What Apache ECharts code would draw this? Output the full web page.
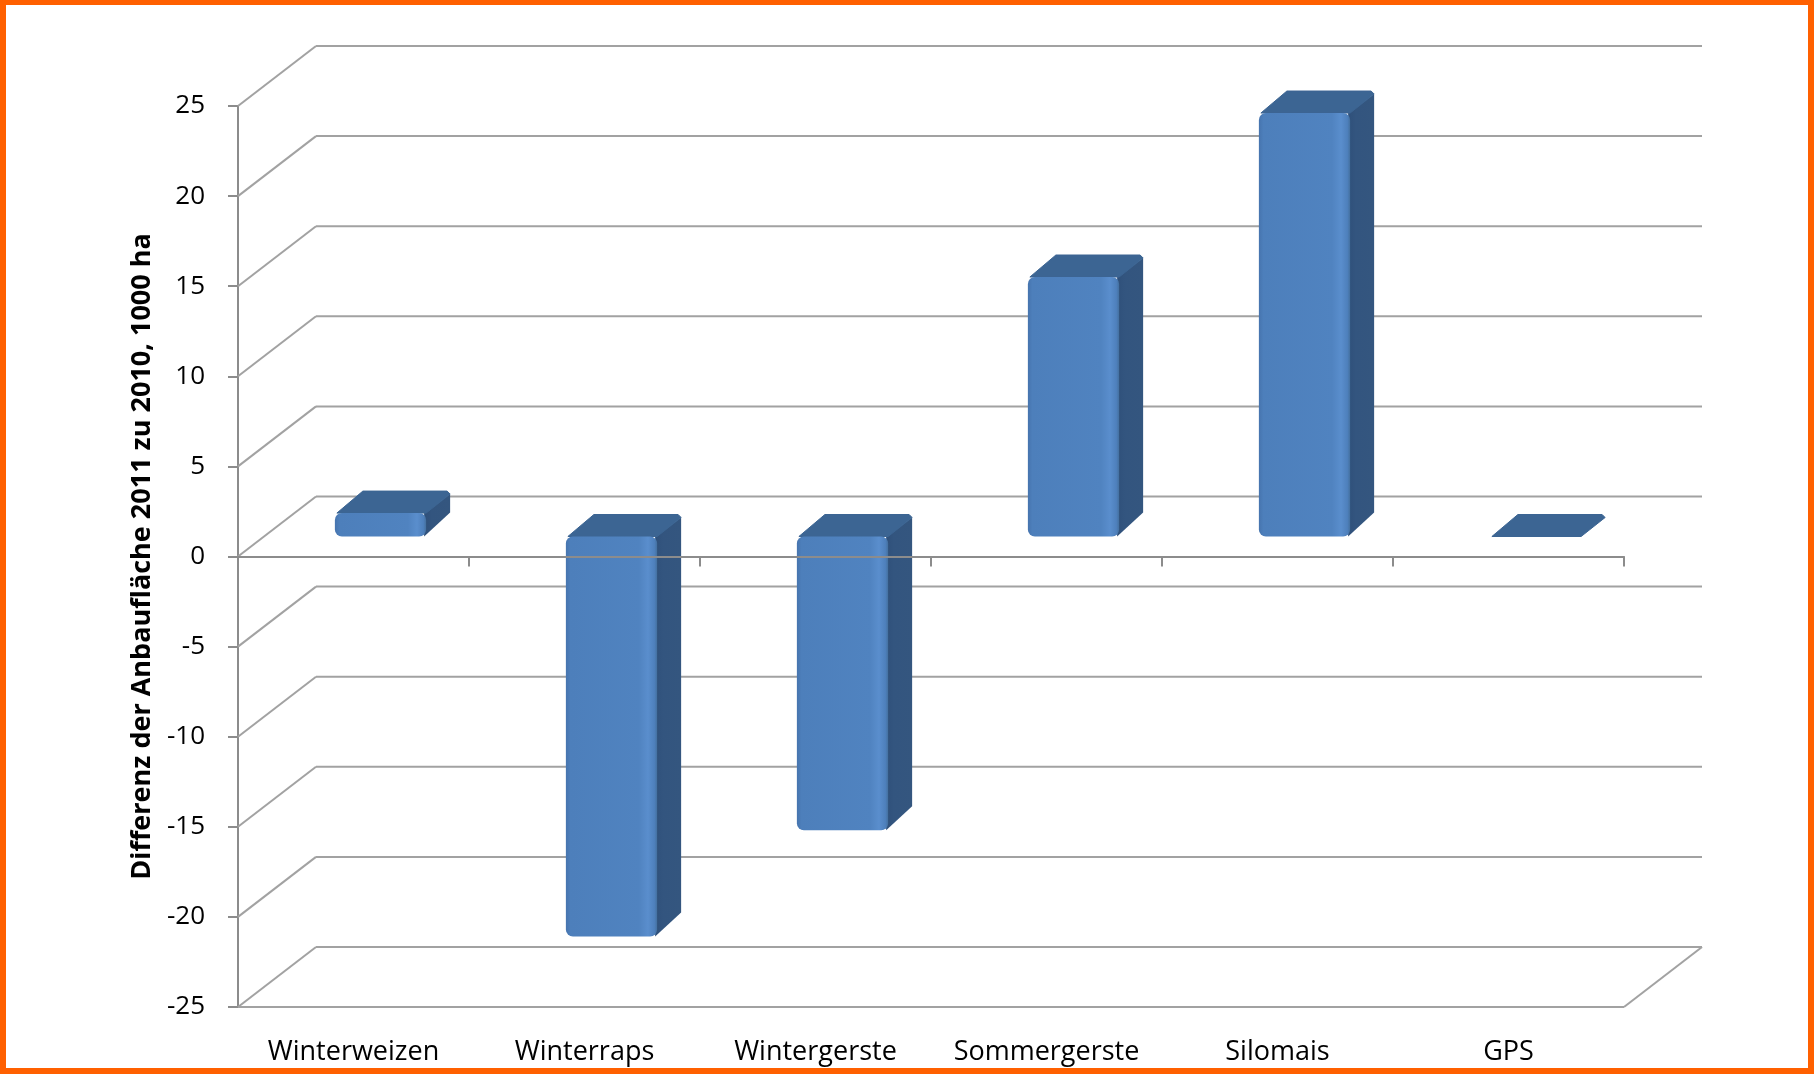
<!DOCTYPE html>
<html>
<head>
<meta charset="utf-8">
<script src="https://cdn.jsdelivr.net/npm/echarts@6/dist/echarts.min.js"></script>
<style>
  html, body { margin: 0; padding: 0; background: #ffffff; }
  #chart { width: 1816px; height: 1074px; }
</style>
</head>
<body>
<div id="chart"></div>
<script>
// ---------- data ----------
const categories = ['Winterweizen', 'Winterraps', 'Wintergerste', 'Sommergerste', 'Silomais', 'GPS'];
const values = [1.3, -22.2, -16.3, 14.4, 23.5, 0];
const yTicks = [-25, -20, -15, -10, -5, 0, 5, 10, 15, 20, 25];
const yTitle = 'Differenz der Anbaufläche 2011 zu 2010, 1000 ha';

// ---------- styling (pseudo-3D oblique projection) ----------
const WALL = { dx: 78, dy: -60 };        // offset from front plane to back wall
const BAR_SHIFT = { dx: 27, dy: -20 };   // front face of the bars sits at partial depth
const BAR_DEPTH = { dx: 24, dy: -22 };   // depth of a bar
const BAR_WIDTH = 0.395;                 // share of category width
const GRID_COLOR = '#A2A2A2';
const AXIS_COLOR = '#8C8C8C';
const FONT = 'Open Sans';

const yMin = yTicks[0], yMax = yTicks[yTicks.length - 1];
const yStep = yTicks[1] - yTicks[0];

const chart = echarts.init(document.getElementById('chart'), null, { renderer: 'canvas' });

function renderWall(params, api) {
  const cs = params.coordSys;
  const v = api.value(1);
  const y = api.coord([0, v])[1];
  const x0 = cs.x, x1 = cs.x + cs.width;
  const ls = { stroke: GRID_COLOR, lineWidth: 2 };
  const children = [
    { type: 'line', shape: { x1: x0, y1: y, x2: x0 + WALL.dx, y2: y + WALL.dy }, style: ls },
    { type: 'line', shape: { x1: x0 + WALL.dx, y1: y + WALL.dy, x2: x1 + WALL.dx, y2: y + WALL.dy }, style: ls }
  ];
  if (v === yMin) {
    children.push({ type: 'line', shape: { x1: x0, y1: y, x2: x1, y2: y }, style: ls });
    children.push({ type: 'line', shape: { x1: x1, y1: y, x2: x1 + WALL.dx, y2: y + WALL.dy }, style: ls });
  }
  return { type: 'group', children: children };
}

function renderBar(params, api) {
  const i = api.value(0), v = api.value(1);
  const p0 = api.coord([i, 0]);
  const p1 = api.coord([i, v]);
  const bw = api.size([1, 0])[0] * BAR_WIDTH;
  const xL = p0[0] - bw / 2 + BAR_SHIFT.dx, xR = xL + bw;
  const yA = p0[1] + BAR_SHIFT.dy, yB = p1[1] + BAR_SHIFT.dy;
  const yTop = Math.min(yA, yB), yBot = Math.max(yA, yB);
  const h = yBot - yTop;
  const dx = BAR_DEPTH.dx, dy = BAR_DEPTH.dy;
  const children = [];
  if (h > 1) {
    children.push({
      type: 'polygon',
      shape: { points: [[xR - 2, yTop], [xR + dx, yTop + dy + 3], [xR + dx, yBot + dy - 2], [xR - 2, yBot]] },
      style: {
        fill: new echarts.graphic.LinearGradient(0, 0, 1, 0, [
          { offset: 0, color: '#2F507A' },
          { offset: 0.3, color: '#33557F' },
          { offset: 1, color: '#34567F' }
        ])
      }
    });
  }
  children.push({
    type: 'polygon',
    shape: { points: [[xL + 2, yTop], [xL + dx + 4, yTop + dy], [xR + dx - 3, yTop + dy], [xR + dx, yTop + dy + 3], [xR, yTop]] },
    style: { fill: '#3C6593', stroke: '#3C6593', lineWidth: 1, lineJoin: 'round' }
  });
  if (h > 1) {
    children.push({
      type: 'rect',
      shape: { x: xL, y: yTop, width: bw, height: h, r: 7 },
      style: {
        fill: new echarts.graphic.LinearGradient(0, 0, 1, 0, [
          { offset: 0, color: '#4674AE' },
          { offset: 0.05, color: '#4D7FBB' },
          { offset: 0.8, color: '#5083C0' },
          { offset: 0.9, color: '#5A8ECD' },
          { offset: 0.97, color: '#4E80BC' },
          { offset: 1, color: '#44709F' }
        ])
      }
    });
  }
  return { type: 'group', children: children };
}

const option = {
  backgroundColor: '#ffffff',
  animation: false,
  textStyle: { fontFamily: FONT },
  grid: { left: 238, right: 192, top: 106, bottom: 67, containLabel: false, outerBoundsMode: 'none' },
  xAxis: [
    {
      type: 'category',
      data: categories,
      position: 'bottom',
      axisLine: { show: false, onZero: false },
      axisTick: { show: false },
      axisLabel: { color: '#000', fontSize: 27, fontFamily: FONT, margin: 32, interval: 0 },
      splitLine: { show: false }
    },
    {
      type: 'category',
      data: categories,
      position: 'top',
      z: 10,
      axisLine: { show: true, onZero: true, lineStyle: { color: AXIS_COLOR, width: 2 } },
      axisTick: { show: true, inside: true, length: 10, lineStyle: { color: AXIS_COLOR, width: 2 } },
      axisLabel: { show: false },
      splitLine: { show: false }
    }
  ],
  yAxis: {
    type: 'value',
    min: yMin,
    max: yMax,
    interval: yStep,
    name: yTitle,
    nameLocation: 'middle',
    nameRotate: 90,
    nameGap: 82,
    nameTextStyle: { fontFamily: FONT, fontWeight: 'bold', fontSize: 27, color: '#000' },
    axisLine: { show: true, lineStyle: { color: AXIS_COLOR, width: 2 } },
    axisTick: { show: true, length: 10, lineStyle: { color: AXIS_COLOR, width: 2 } },
    axisLabel: { color: '#000', fontSize: 26, fontFamily: FONT, margin: 33 },
    splitLine: { show: false }
  },
  series: [
    {
      type: 'custom',
      name: 'wall',
      xAxisIndex: 0,
      yAxisIndex: 0,
      z: 1,
      silent: true,
      clip: false,
      renderItem: renderWall,
      data: yTicks.map(v => [0, v])
    },
    {
      type: 'custom',
      name: 'Differenz',
      xAxisIndex: 0,
      yAxisIndex: 0,
      z: 3,
      clip: false,
      renderItem: renderBar,
      data: values.map((v, i) => [i, v])
    }
  ],
  graphic: [
    {
      type: 'rect',
      z: 100,
      silent: true,
      shape: { x: 3, y: 2, width: 1808, height: 1069 },
      style: { fill: 'none', stroke: '#FF6000', lineWidth: 6 }
    }
  ]
};

chart.setOption(option);
</script>
</body>
</html>
